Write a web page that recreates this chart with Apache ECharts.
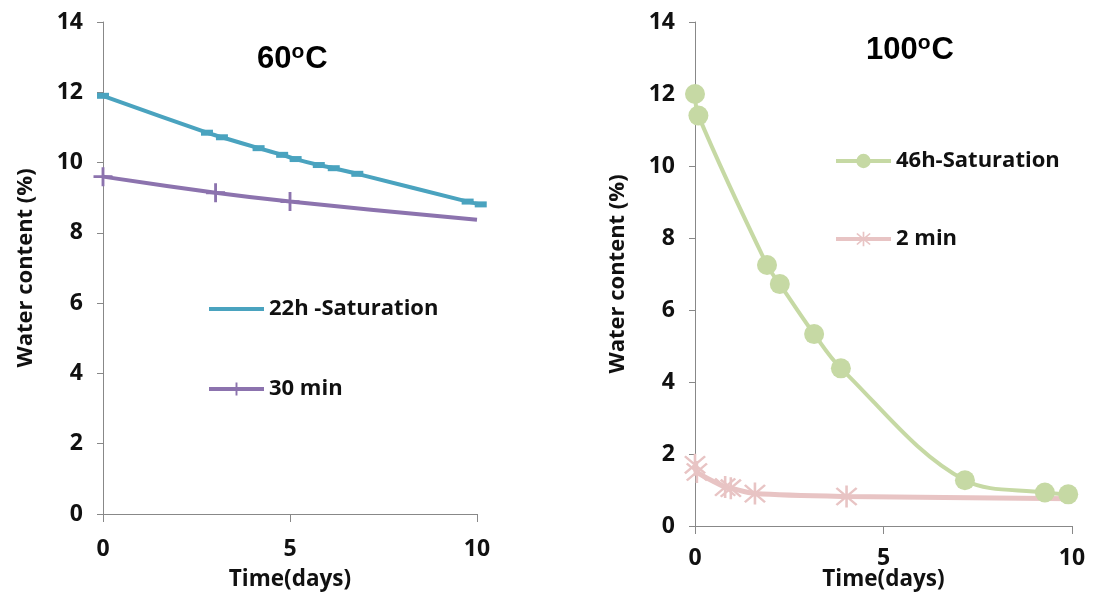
<!DOCTYPE html>
<html>
<head>
<meta charset="utf-8">
<script src="https://cdn.jsdelivr.net/npm/echarts@6/dist/echarts.min.js"></script>
<style>
html,body{margin:0;padding:0;background:#fff;}
#c{width:1093px;height:593px;}
</style>
</head>
<body>
<div id="c"></div>
<script>
// ---- Data ----
const yTicks = [0, 2, 4, 6, 8, 10, 12, 14];
const xTicks = [0, 5, 10];

// 60ºC panel
const sat22hX = [0, 2.78, 3.18, 4.16, 4.79, 5.15, 5.77, 6.17, 6.80, 9.75, 10.1];
const sat22hY = [11.9, 10.85, 10.72, 10.41, 10.22, 10.10, 9.93, 9.84, 9.68, 8.89, 8.81];
const min30X = [0, 3.01, 5.0, 10];
const min30Y = [9.60, 9.14, 8.89, 8.37];
const min30Marked = [true, true, true, false];

// 100ºC panel
const sat46hX = [0, 0.09, 1.91, 2.25, 3.16, 3.87, 7.16, 9.28, 9.9];
const sat46hY = [12.0, 11.4, 7.25, 6.72, 5.33, 4.38, 1.27, 0.93, 0.88];
const min2X = [0, 0.05, 0.8, 0.95, 1.59, 4.02, 10];
const min2Y = [1.7, 1.5, 1.08, 1.05, 0.9, 0.82, 0.76];
const min2Marked = [true, true, true, true, true, true, false];

const names = ['22h -Saturation', '30 min', '46h-Saturation', '2 min'];
const titles = ['60', '100'];

// ---- Helpers ----
function pairs(xs, ys, marked) {
  return xs.map((x, i) => {
    const d = { value: [x, ys[i]] };
    if (marked && !marked[i]) d.symbol = 'none';
    return d;
  });
}
const FONT = 'Open Sans';
const plusPath = 'path://M8.5 0 H11.5 V20 H8.5 Z M0 8.5 H20 V11.5 H0 Z';
const starPath = 'path://M9 0 H11 V20 H9 Z M1.5 2.9 L2.9 1.5 L18.5 17.1 L17.1 18.5 Z M1.5 17.1 L17.1 1.5 L18.5 2.9 L2.9 18.5 Z';

function yAxis(gridIndex) {
  return {
    type: 'value', gridIndex, min: 0, max: 14, interval: 2,
    name: 'Water content (%)', nameLocation: 'middle', nameGap: 66,
    nameTextStyle: { fontFamily: FONT, fontWeight: 'bold', fontSize: 22, color: '#111' },
    axisLine: { show: true, lineStyle: { color: '#888', width: 1 } },
    axisTick: { show: true, inside: false, length: 6, lineStyle: { color: '#888' } },
    splitLine: { show: false },
    axisLabel: { margin: 20, fontFamily: FONT, fontWeight: 'bold', fontSize: 23, color: '#111',
      formatter: v => yTicks.includes(v) ? String(v) : '' }
  };
}
function xAxis(gridIndex, nameGap, margin) {
  return {
    type: 'value', gridIndex, min: 0, max: 10, interval: 5,
    name: 'Time(days)', nameLocation: 'middle', nameGap, nameMoveOverlap: false,
    nameTextStyle: { fontFamily: FONT, fontWeight: 'bold', fontSize: 22.5, color: '#111' },
    axisLine: { show: true, onZero: false, lineStyle: { color: '#888', width: 1 } },
    axisTick: { show: true, inside: false, length: 8, lineStyle: { color: '#888' } },
    splitLine: { show: false },
    axisLabel: { margin, fontFamily: FONT, fontWeight: 'bold', fontSize: 23, color: '#111',
      formatter: v => xTicks.includes(v) ? String(v) : '' }
  };
}
function titleText(t) {
  return '{a|' + t + '}{s|o}{a|C}';
}
const titleRich = {
  a: { fontFamily: 'Liberation Sans', fontWeight: 'bold', fontSize: 31, color: '#000', lineHeight: 34 },
  s: { fontFamily: 'Liberation Sans', fontWeight: 'bold', fontSize: 21, color: '#000', verticalAlign: 'top', lineHeight: 34, padding: [0, 1, 14, 0] }
};
const legendText = { fontFamily: FONT, fontWeight: 'bold', fontSize: 22, color: '#111' };

const option = {
  animation: false,
  backgroundColor: '#fff',
  title: [
    { text: titleText(titles[0]), left: 257, top: 42, padding: 0, textStyle: { rich: titleRich } },
    { text: titleText(titles[1]), left: 866, top: 33, padding: 0, textStyle: { rich: titleRich } }
  ],
  legend: [
    { data: [{ name: names[0], itemStyle: { opacity: 0 } }, names[1]], orient: 'vertical', left: 207, top: 298, padding: 0,
      itemWidth: 55, itemHeight: 16, itemGap: 58, lineStyle: { width: 4 },
      textStyle: legendText },
    { data: [names[2], names[3]], orient: 'vertical', left: 834, top: 150, padding: 0,
      itemWidth: 55, itemHeight: 18, itemGap: 56, lineStyle: { width: 4 },
      textStyle: legendText }
  ],
  grid: [
    { left: 103, right: 616, top: 22, bottom: 79, outerBoundsMode: 'none', containLabel: false },
    { left: 695, right: 21, top: 22, bottom: 67, outerBoundsMode: 'none', containLabel: false }
  ],
  xAxis: [xAxis(0, 54, 24), xAxis(1, 42, 21)],
  yAxis: [yAxis(0), yAxis(1)],
  series: [
    { name: names[0], type: 'line', xAxisIndex: 0, yAxisIndex: 0, smooth: 0.3, clip: false,
      data: pairs(sat22hX, sat22hY),
      lineStyle: { color: '#4AA3BF', width: 4 },
      itemStyle: { color: '#4AA3BF' },
      symbol: 'rect', symbolSize: [12, 6] },
    { name: names[1], type: 'line', xAxisIndex: 0, yAxisIndex: 0, smooth: 0.3, clip: false,
      data: pairs(min30X, min30Y, min30Marked),
      lineStyle: { color: '#8C73AE', width: 4 },
      itemStyle: { color: '#8C73AE' },
      symbol: plusPath, symbolSize: 19 },
    { name: names[2], type: 'line', xAxisIndex: 1, yAxisIndex: 1, smooth: 0.35, clip: false,
      data: pairs(sat46hX, sat46hY),
      lineStyle: { color: '#C6D9A4', width: 4 },
      itemStyle: { color: '#C6D9A4' },
      symbol: 'circle', symbolSize: 20 },
    { name: names[3], type: 'line', xAxisIndex: 1, yAxisIndex: 1, smooth: 0.3, clip: false,
      data: pairs(min2X, min2Y, min2Marked),
      lineStyle: { color: '#E8C4C4', width: 5 },
      itemStyle: { color: '#E8C4C4' },
      symbol: starPath, symbolSize: 22 }
  ]
};
const chart = echarts.init(document.getElementById('c'), null, { renderer: 'canvas' });
chart.setOption(option);
</script>
</body>
</html>
